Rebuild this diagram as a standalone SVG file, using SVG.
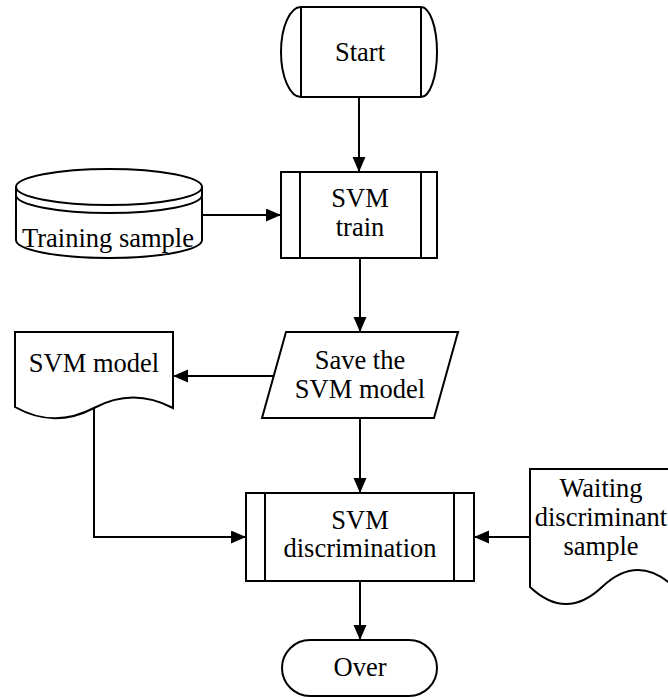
<svg xmlns="http://www.w3.org/2000/svg" width="668" height="698" viewBox="0 0 668 698">
<style>
.s{fill:#fff;stroke:#000;stroke-width:2}
.l{fill:none;stroke:#000;stroke-width:2}
.t{font-family:'Liberation Serif',serif;font-size:26.5px;fill:#000;text-anchor:middle}
</style>
<defs>
<marker id="a" markerUnits="userSpaceOnUse" markerWidth="16" markerHeight="14" refX="15" refY="6.5" orient="auto">
<path d="M0,0 L15,6.5 L0,13 z" fill="#000"/>
</marker>
</defs>
<rect width="668" height="698" fill="#fff"/>
<g id="connectors">
<path class="l" d="M359,97 V172" marker-end="url(#a)"/>
<path class="l" d="M202,215 H281" marker-end="url(#a)"/>
<path class="l" d="M360,258 V332" marker-end="url(#a)"/>
<path class="l" d="M274,376 H173" marker-end="url(#a)"/>
<path class="l" d="M360,418 V493" marker-end="url(#a)"/>
<path class="l" d="M94,408 V537 H246" marker-end="url(#a)"/>
<path class="l" d="M530,537 H474" marker-end="url(#a)"/>
<path class="l" d="M360,581 V640" marker-end="url(#a)"/>
</g>
<g id="start">
<path class="s" d="M301,7 H421 A16,45 0 0 1 421,97 H301 A20,45 0 0 1 301,7 Z"/>
<path class="l" d="M301,7 V97 M421,7 V97"/>
<text class="t" x="360" y="61">Start</text>
</g>
<g id="training">
<path class="s" d="M16,187 A93,18 0 0 1 202,187 V240 A93,18 0 0 1 16,240 Z"/>
<path class="l" d="M16,187 A93,18 0 0 0 202,187 M16,195 A93,18 0 0 0 202,195"/>
<text class="t" x="108" y="247">Training sample</text>
</g>
<g id="train">
<rect class="s" x="281" y="172" width="156" height="86"/>
<path class="l" d="M300,172 V258 M421,172 V258"/>
<text class="t" x="360" y="207">SVM</text>
<text class="t" x="360" y="236">train</text>
</g>
<g id="save">
<path class="s" d="M286,332 H458 L434,418 H262 Z"/>
<text class="t" x="360" y="369">Save the</text>
<text class="t" x="360" y="398">SVM model</text>
</g>
<g id="model">
<path class="s" d="M15,332 H173 V408 Q133,387 94,408 Q54,429 15,407 Z"/>
<text class="t" x="94" y="372">SVM model</text>
</g>
<g id="discrimination">
<rect class="s" x="246" y="493" width="228" height="88"/>
<path class="l" d="M265,493 V581 M454,493 V581"/>
<text class="t" x="360" y="529">SVM</text>
<text class="t" x="360" y="557">discrimination</text>
</g>
<g id="waiting">
<path class="s" d="M530,469 H674 V587 Q638,553 602,587 Q566,621 530,587 Z"/>
<text class="t" x="601" y="497">Waiting</text>
<text class="t" x="601" y="526">discriminant</text>
<text class="t" x="601" y="555">sample</text>
</g>
<g id="over">
<rect class="s" x="282" y="640" width="155" height="56" rx="28" ry="28"/>
<text class="t" x="360" y="676">Over</text>
</g>
</svg>
